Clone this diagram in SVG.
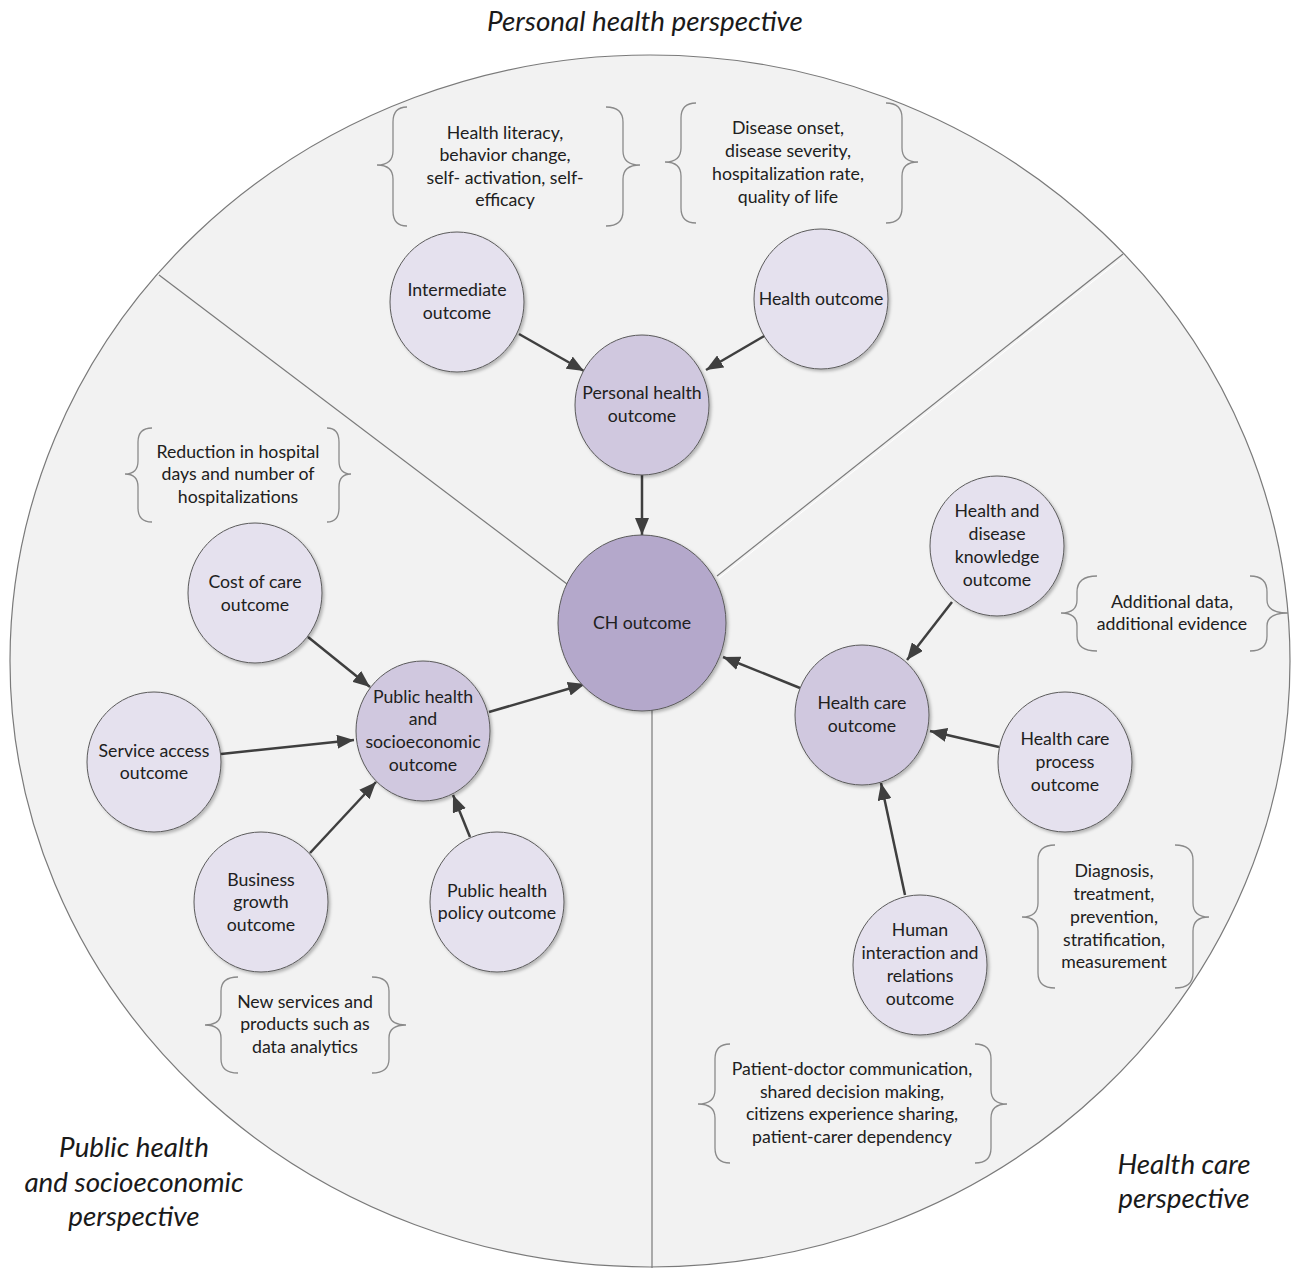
<svg xmlns="http://www.w3.org/2000/svg" width="1292" height="1268" viewBox="0 0 1292 1268">
<defs>
<style>
.t{font-family:Lato,"Liberation Sans",sans-serif;font-size:17.7px;fill:#202020;text-anchor:middle}
.p{font-family:Lato,"Liberation Sans",sans-serif;font-style:italic;font-size:27.8px;fill:#1a1a1a;text-anchor:middle}
.n1{fill:#e5e1ee;stroke:#5a5a5a;stroke-width:1}
.n2{fill:#d0c8df;stroke:#5a5a5a;stroke-width:1}
.n3{fill:#b4a8cb;stroke:#5a5a5a;stroke-width:1}
.div{stroke:#7a7a7a;stroke-width:1.2;fill:none}
.br{stroke:#8a8a8a;stroke-width:1.3;fill:none}
.ar{stroke:#3f3f3f;stroke-width:2.5;fill:none;marker-end:url(#ah)}
</style>
<marker id="ah" markerUnits="userSpaceOnUse" markerWidth="18" markerHeight="14" viewBox="0 0 18 14" refX="17" refY="7" orient="auto">
<path d="M0,0 L17,7 L0,14 Z" fill="#3f3f3f"/>
</marker>
<filter id="sh" x="-20%" y="-20%" width="150%" height="150%">
<feDropShadow dx="2" dy="2" stdDeviation="1.5" flood-color="#000" flood-opacity="0.25"/>
</filter>
</defs>
<rect width="1292" height="1268" fill="#ffffff"/>
<g id="background">
<ellipse cx="650" cy="661" rx="640" ry="606" fill="#f2f2f2" stroke="#7a7a7a" stroke-width="1.2"/>
<line class="div" x1="159" y1="275" x2="567" y2="584"/>
<line class="div" x1="1123" y1="254" x2="717" y2="576"/>
<line x1="1125" y1="256" x2="719" y2="578" stroke="#ffffff" stroke-width="1"/>
<line class="div" x1="652" y1="710" x2="652" y2="1268"/>
</g>
<g id="perspective-labels">
<text class="p" x="645" y="31">Personal health perspective</text>
<text class="p" x="134" y="1157">Public health</text>
<text class="p" x="134" y="1192">and socioeconomic</text>
<text class="p" x="134" y="1226">perspective</text>
<text class="p" x="1184" y="1174">Health care</text>
<text class="p" x="1184" y="1208">perspective</text>
</g>
<g id="connectors">
<line class="ar" x1="519" y1="334" x2="584" y2="371"/>
<line class="ar" x1="766" y1="335" x2="706" y2="370"/>
<line class="ar" x1="642" y1="475" x2="642" y2="535"/>
<line class="ar" x1="308" y1="637" x2="370" y2="687"/>
<line class="ar" x1="221" y1="754" x2="354" y2="740"/>
<line class="ar" x1="310" y1="853" x2="376" y2="782"/>
<line class="ar" x1="470" y1="837" x2="453" y2="795"/>
<line class="ar" x1="489" y1="712" x2="585" y2="684"/>
<line class="ar" x1="952" y1="602" x2="907" y2="660"/>
<line class="ar" x1="999" y1="747" x2="930" y2="731"/>
<line class="ar" x1="905" y1="895" x2="881" y2="783"/>
<line class="ar" x1="800" y1="688" x2="723" y2="657"/>
</g>
<g id="node-ch">
<ellipse class="n3" cx="642" cy="623" rx="84" ry="88" filter="url(#sh)"/>
<text class="t" x="642" y="629">CH outcome</text>
</g>
<g id="node-personal">
<ellipse class="n2" cx="642" cy="405" rx="67" ry="70" filter="url(#sh)"/>
<text class="t" x="642" y="399">Personal health</text>
<text class="t" x="642" y="422">outcome</text>
</g>
<g id="node-intermediate">
<ellipse class="n1" cx="457" cy="302" rx="67" ry="70" filter="url(#sh)"/>
<text class="t" x="457" y="296">Intermediate</text>
<text class="t" x="457" y="319">outcome</text>
</g>
<g id="node-health">
<ellipse class="n1" cx="821" cy="299" rx="67" ry="70" filter="url(#sh)"/>
<text class="t" x="821" y="305">Health outcome</text>
</g>
<g id="node-public">
<ellipse class="n2" cx="423" cy="731" rx="67" ry="70" filter="url(#sh)"/>
<text class="t" x="423" y="703">Public health</text>
<text class="t" x="423" y="725">and</text>
<text class="t" x="423" y="748">socioeconomic</text>
<text class="t" x="423" y="771">outcome</text>
</g>
<g id="node-cost">
<ellipse class="n1" cx="255" cy="593" rx="67" ry="70" filter="url(#sh)"/>
<text class="t" x="255" y="588">Cost of care</text>
<text class="t" x="255" y="611">outcome</text>
</g>
<g id="node-service">
<ellipse class="n1" cx="154" cy="762" rx="67" ry="70" filter="url(#sh)"/>
<text class="t" x="154" y="757">Service access</text>
<text class="t" x="154" y="779">outcome</text>
</g>
<g id="node-business">
<ellipse class="n1" cx="261" cy="902" rx="67" ry="70" filter="url(#sh)"/>
<text class="t" x="261" y="886">Business</text>
<text class="t" x="261" y="908">growth</text>
<text class="t" x="261" y="931">outcome</text>
</g>
<g id="node-policy">
<ellipse class="n1" cx="497" cy="902" rx="67" ry="70" filter="url(#sh)"/>
<text class="t" x="497" y="897">Public health</text>
<text class="t" x="497" y="919">policy outcome</text>
</g>
<g id="node-healthcare">
<ellipse class="n2" cx="862" cy="715" rx="67" ry="70" filter="url(#sh)"/>
<text class="t" x="862" y="709">Health care</text>
<text class="t" x="862" y="732">outcome</text>
</g>
<g id="node-knowledge">
<ellipse class="n1" cx="997" cy="546" rx="67" ry="70" filter="url(#sh)"/>
<text class="t" x="997" y="517">Health and</text>
<text class="t" x="997" y="540">disease</text>
<text class="t" x="997" y="563">knowledge</text>
<text class="t" x="997" y="586">outcome</text>
</g>
<g id="node-process">
<ellipse class="n1" cx="1065" cy="762" rx="67" ry="70" filter="url(#sh)"/>
<text class="t" x="1065" y="745">Health care</text>
<text class="t" x="1065" y="768">process</text>
<text class="t" x="1065" y="791">outcome</text>
</g>
<g id="node-human">
<ellipse class="n1" cx="920" cy="965" rx="67" ry="70" filter="url(#sh)"/>
<text class="t" x="920" y="936">Human</text>
<text class="t" x="920" y="959">interaction and</text>
<text class="t" x="920" y="982">relations</text>
<text class="t" x="920" y="1005">outcome</text>
</g>
<g id="note-intermediate">
<path class="br" d="M407,107 Q393,107 393,122 L393,151 Q393,165 377,165 Q393,165 393,179 L393,211 Q393,226 407,226"/>
<path class="br" d="M606,107 Q623,107 623,122 L623,151 Q623,165 640,165 Q623,165 623,179 L623,211 Q623,226 606,226"/>
<text class="t" x="505" y="139">Health literacy,</text>
<text class="t" x="505" y="161">behavior change,</text>
<text class="t" x="505" y="184">self- activation, self-</text>
<text class="t" x="505" y="206">efficacy</text>
</g>
<g id="note-health">
<path class="br" d="M696,103 Q681,103 681,118 L681,148 Q681,162 665,162 Q681,162 681,176 L681,208 Q681,223 696,223"/>
<path class="br" d="M886,103 Q902,103 902,118 L902,148 Q902,162 918,162 Q902,162 902,176 L902,208 Q902,223 886,223"/>
<text class="t" x="788" y="134">Disease onset,</text>
<text class="t" x="788" y="157">disease severity,</text>
<text class="t" x="788" y="180">hospitalization rate,</text>
<text class="t" x="788" y="203">quality of life</text>
</g>
<g id="note-cost">
<path class="br" d="M152,428 Q138,428 138,442 L138,461 Q138,474 125,474 Q138,474 138,487 L138,508 Q138,522 152,522"/>
<path class="br" d="M327,428 Q339,428 339,442 L339,461 Q339,474 351,474 Q339,474 339,487 L339,508 Q339,522 327,522"/>
<text class="t" x="238" y="458">Reduction in hospital</text>
<text class="t" x="238" y="480">days and number of</text>
<text class="t" x="238" y="503">hospitalizations</text>
</g>
<g id="note-knowledge">
<path class="br" d="M1097,576 Q1077,576 1077,592 L1077,600 Q1077,613 1061,613 Q1077,613 1077,626 L1077,636 Q1077,651 1097,651"/>
<path class="br" d="M1250,576 Q1267,576 1267,592 L1267,600 Q1267,613 1288,613 Q1267,613 1267,626 L1267,636 Q1267,651 1250,651"/>
<text class="t" x="1172" y="608">Additional data,</text>
<text class="t" x="1172" y="630">additional evidence</text>
</g>
<g id="note-process">
<path class="br" d="M1055,845 Q1038,845 1038,860 L1038,903 Q1038,917 1022,917 Q1038,917 1038,931 L1038,973 Q1038,988 1055,988"/>
<path class="br" d="M1175,845 Q1193,845 1193,860 L1193,903 Q1193,917 1209,917 Q1193,917 1193,931 L1193,973 Q1193,988 1175,988"/>
<text class="t" x="1114" y="877">Diagnosis,</text>
<text class="t" x="1114" y="900">treatment,</text>
<text class="t" x="1114" y="923">prevention,</text>
<text class="t" x="1114" y="946">stratification,</text>
<text class="t" x="1114" y="968">measurement</text>
</g>
<g id="note-human">
<path class="br" d="M730,1044 Q715,1044 715,1059 L715,1090 Q715,1104 698,1104 Q715,1104 715,1118 L715,1148 Q715,1163 730,1163"/>
<path class="br" d="M975,1044 Q991,1044 991,1059 L991,1090 Q991,1104 1007,1104 Q991,1104 991,1118 L991,1148 Q991,1163 975,1163"/>
<text class="t" x="852" y="1075">Patient-doctor communication,</text>
<text class="t" x="852" y="1098">shared decision making,</text>
<text class="t" x="852" y="1120">citizens experience sharing,</text>
<text class="t" x="852" y="1143">patient-carer dependency</text>
</g>
<g id="note-business">
<path class="br" d="M238,977 Q221,977 221,991 L221,1012 Q221,1025 205,1025 Q221,1025 221,1038 L221,1059 Q221,1073 238,1073"/>
<path class="br" d="M372,977 Q389,977 389,991 L389,1012 Q389,1025 406,1025 Q389,1025 389,1038 L389,1059 Q389,1073 372,1073"/>
<text class="t" x="305" y="1008">New services and</text>
<text class="t" x="305" y="1030">products such as</text>
<text class="t" x="305" y="1053">data analytics</text>
</g>
</svg>
